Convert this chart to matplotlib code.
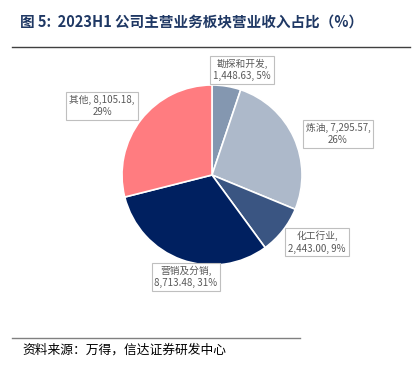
import matplotlib.pyplot as plt
from matplotlib.lines import Line2D

plt.rcParams['font.family'] = ['Noto Sans CJK SC', 'DejaVu Sans']

segments = ['勘探和开发', '炼油', '化工行业', '营销及分销', '其他']
revenue = [1448.63, 7295.57, 2443.00, 8713.48, 8105.18]
shares = ['5%', '26%', '9%', '31%', '29%']
colors = ['#8497b0', '#adb9ca', '#3a5582', '#002060', '#ff7c80']

W, H = 419, 366
fig = plt.figure(figsize=(W / 100, H / 100), dpi=100)

# pie axes, center ~ (212, 175) px, radius ~ 90 px
cx, cy, r = 212, 175, 90
ax = fig.add_axes([(cx - r) / W, (H - cy - r) / H, 2 * r / W, 2 * r / H])
ax.pie(revenue, colors=colors, startangle=90, counterclock=False,
       wedgeprops=dict(edgecolor='white', linewidth=1.2))
ax.set_xlim(-1, 1)
ax.set_ylim(-1, 1)
ax.set_aspect('auto')
ax.axis('off')

# data labels (pixel positions of the boxes)
label_pos = [(242, 70), (338, 134), (317, 242), (186, 277), (102, 106)]
box = dict(boxstyle='square,pad=0.3', facecolor='white', edgecolor='#bfbfbf', linewidth=0.8)
for name, val, pct, (px, py) in zip(segments, revenue, shares, label_pos):
    txt = f'{name},\n{val:,.2f}, {pct}'
    if name in ('其他', '炼油'):
        txt = f'{name}, {val:,.2f},\n{pct}'
    fig.text(px / W, 1 - py / H, txt, ha='center', va='center', fontsize=7,
             color='#595959', linespacing=1.3, bbox=box)

# title
fig.text(20 / W, 1 - 22 / H, '图 5:  2023H1 公司主营业务板块营业收入占比（%）',
         fontsize=10.5, fontweight='bold', color='#1f3864', ha='left', va='center')
fig.add_artist(Line2D([12 / W, 410 / W], [1 - 47 / H, 1 - 47 / H], color='#404040', linewidth=1))
fig.add_artist(Line2D([12 / W, 300 / W], [1 - 338 / H, 1 - 338 / H], color='#808080', linewidth=1))
fig.text(22 / W, 1 - 350 / H, '资料来源：万得，信达证券研发中心', fontsize=9.2, color='#000000',
         ha='left', va='center', style='italic')

fig.savefig('out.png', dpi=100)
